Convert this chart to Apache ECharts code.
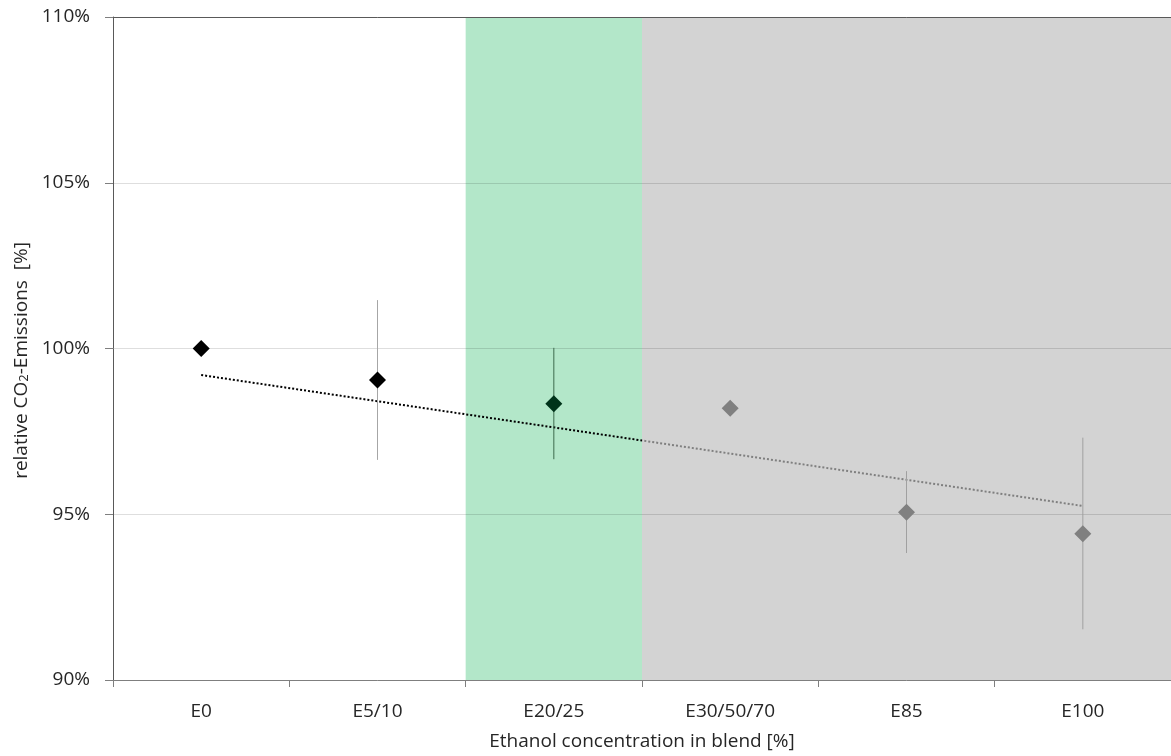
<!DOCTYPE html>
<html><head><meta charset="utf-8">
<script src="https://cdn.jsdelivr.net/npm/echarts@6/dist/echarts.min.js"></script>
<style>html,body{margin:0;padding:0;background:#fff}#c{width:1171px;height:756px}</style>
</head><body><div id="c"></div>
<script>
// ---- data ----
const categories = ['E0', 'E5/10', 'E20/25', 'E30/50/70', 'E85', 'E100'];
const meanValues = [100.0, 99.05, 98.33, 98.2, 95.06, 94.41];
const errLow  = [null, 96.64, 96.66, null, 93.83, 91.53];
const errHigh = [null, 101.46, 100.02, null, 96.30, 97.31];
const trendFrom = ['E0', 99.2];
const trendTo   = ['E100', 95.25];
const yTickValues = [90, 95, 100, 105, 110];
const greenBandCats = ['E20/25', 'E20/25'];
const grayBandCats  = ['E30/50/70', 'E100'];

// ---- styles ----
const markerColors = ['#000000', '#000000', '#00331a', '#808080', '#808080', '#808080'];
const errColors = ['#a6a6a6', '#a6a6a6', '#3d6b4c', '#a0a0a0', '#a0a0a0', '#a0a0a0'];
const FONT = 'Open Sans';
const TXT = '#262626';

const idx = c => categories.indexOf(c);
const bandStart = c => idx(c) - 0.5;
const bandEnd = c => idx(c) + 0.5;

const chart = echarts.init(document.getElementById('c'), null, {renderer: 'canvas'});

const scatterData = meanValues.map((v, i) => ({value: [categories[i], v], itemStyle: {color: markerColors[i], opacity: 1}}));
const errData = [];
categories.forEach((c, i) => { if (errLow[i] != null) errData.push([i, errLow[i], errHigh[i], i]); });

// trend colour switches from black to grey where the grey band begins
const tx0 = idx(trendFrom[0]), tx1 = idx(trendTo[0]);
const split = (bandStart(grayBandCats[0]) - tx0) / (tx1 - tx0);
const trendColor = new echarts.graphic.LinearGradient(0, 0, 1, 0, [
  {offset: 0, color: '#000000'}, {offset: split, color: '#000000'},
  {offset: split, color: '#7f7f7f'}, {offset: 1, color: '#7f7f7f'}
]);

const option = {
  animation: false,
  backgroundColor: '#ffffff',
  grid: {left: 113, right: 0, top: 17, bottom: 76, containLabel: false},
  xAxis: [{
    type: 'category', data: categories, position: 'bottom', z: 3,
    boundaryGap: true,
    axisLine: {show: true, onZero: false, lineStyle: {color: '#7f7f7f', width: 1}},
    axisTick: {show: true, length: 7, lineStyle: {color: '#7f7f7f'}},
    axisLabel: {interval: 0, margin: 22, fontFamily: FONT, fontSize: 19, color: TXT},
    splitLine: {show: false},
    name: 'Ethanol concentration in blend [%]', nameLocation: 'middle', nameGap: 52,
    nameTextStyle: {fontFamily: FONT, fontSize: 19, color: TXT}
  }, {
    type: 'value', position: 'top', min: -0.5, max: categories.length - 0.5, z: 3,
    axisLine: {show: true, onZero: false, lineStyle: {color: '#595959', width: 1}},
    axisTick: {show: false}, axisLabel: {show: false}, splitLine: {show: false}
  }],
  yAxis: {
    type: 'value', min: yTickValues[0], max: yTickValues[yTickValues.length - 1], interval: 5, z: 3,
    axisLine: {show: true, onZero: false, lineStyle: {color: '#595959', width: 1}},
    axisTick: {show: true, length: 8, lineStyle: {color: '#7f7f7f'}},
    axisLabel: {margin: 23, fontFamily: FONT, fontSize: 19, color: TXT, formatter: '{value}%'},
    splitLine: {show: true, lineStyle: {color: 'rgba(0,0,0,0.13)', width: 1}},
    name: '{a|relative CO}{s|2}{a|-Emissions  [%]}',
    nameLocation: 'middle', nameRotate: 90, nameGap: 80,
    nameTextStyle: {
      padding: [0, 24, 0, 0],
      rich: {
        a: {fontFamily: FONT, fontSize: 19, color: TXT, lineHeight: 24, verticalAlign: 'bottom'},
        s: {fontFamily: FONT, fontSize: 13, color: TXT, lineHeight: 10, verticalAlign: 'bottom'}
      }
    }
  },
  series: [{
    type: 'line', xAxisIndex: 1, z: 8, symbol: 'none', silent: true,
    data: [[tx0, trendFrom[1]], [tx1, trendTo[1]]],
    lineStyle: {width: 2, type: [2, 2], color: trendColor},
    markArea: {
      silent: true,
      data: [
        [{xAxis: bandStart(greenBandCats[0]), itemStyle: {color: '#b3e7c9'}}, {xAxis: bandEnd(greenBandCats[1])}],
        [{xAxis: bandStart(grayBandCats[0]), itemStyle: {color: '#d3d3d3'}}, {xAxis: bandEnd(grayBandCats[1])}]
      ]
    }
  }, {
    type: 'custom', xAxisIndex: 0, yAxisIndex: 0, coordinateSystem: 'cartesian2d', z: 9, silent: true,
    data: errData,
    renderItem: function (params, api) {
      const i = api.value(0);
      const p1 = api.coord([i, api.value(1)]);
      const p2 = api.coord([i, api.value(2)]);
      return {type: 'line', shape: {x1: p1[0], y1: p1[1], x2: p2[0], y2: p2[1]},
        style: {stroke: errColors[api.value(3)], lineWidth: 1}};
    }
  }, {
    type: 'scatter', xAxisIndex: 0, z: 10, symbol: 'diamond', symbolSize: 17, silent: true,
    itemStyle: {opacity: 1},
    data: scatterData
  }]
};
chart.setOption(option);
</script></body></html>
